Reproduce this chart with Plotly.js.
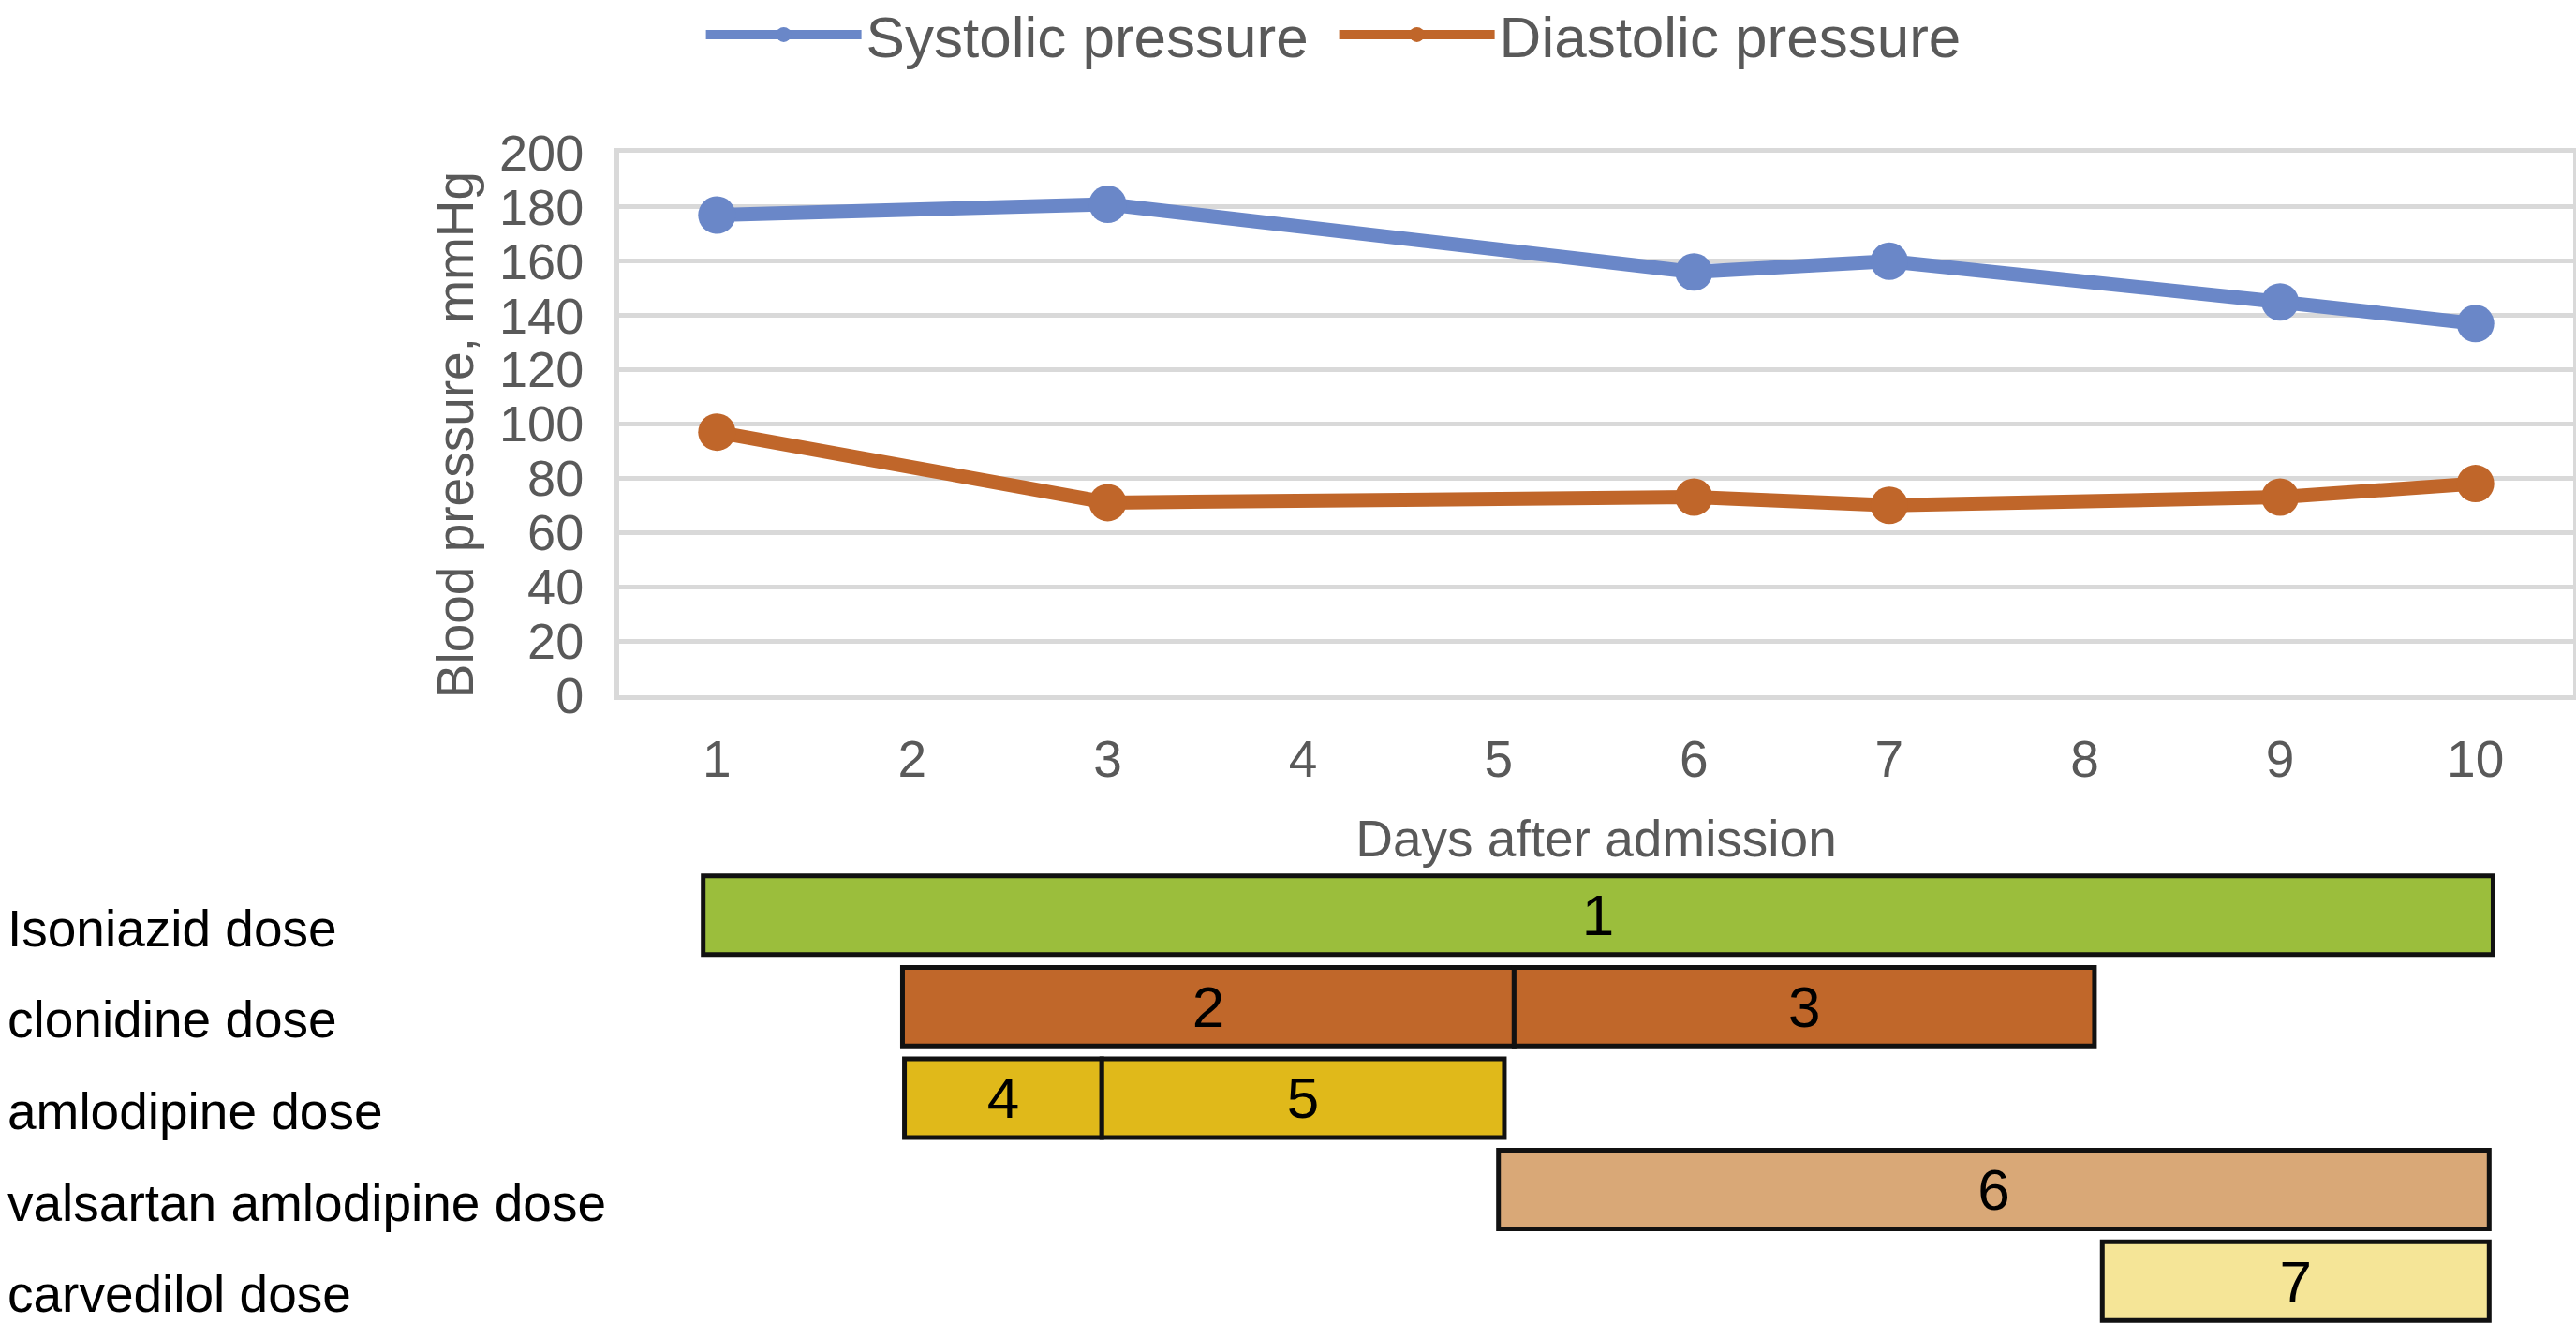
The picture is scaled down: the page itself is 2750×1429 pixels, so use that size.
<!DOCTYPE html>
<html>
<head>
<meta charset="utf-8">
<script src="https://cdn.plot.ly/plotly-3.0.1.min.js"></script>
<style>
  html, body { margin: 0; padding: 0; background: #fff; }
  #chart { width: 2750px; height: 1429px; }
</style>
</head>
<body>
<div id="chart"></div>
<script>
// blood pressure readings, days after admission
var days = [1, 3, 6, 7, 9, 10];
var systolic = [177, 181, 156, 160, 145, 137];
var diastolic = [97, 71, 73, 70, 73, 78];
var dayTicks = [1, 2, 3, 4, 5, 6, 7, 8, 9, 10];

// drug rows and dose periods (start / end in days)
var drugs = ['Isoniazid dose', 'clonidine dose', 'amlodipine dose', 'valsartan amlodipine dose', 'carvedilol dose'];
var doseRow = ['Isoniazid dose', 'clonidine dose', 'clonidine dose', 'amlodipine dose', 'amlodipine dose', 'valsartan amlodipine dose', 'carvedilol dose'];
var doseStart = [0.93, 1.95, 5.08, 1.96, 2.97, 5.0, 8.09];
var doseEnd = [10.09, 5.08, 8.05, 2.97, 5.03, 10.07, 10.07];
var doseLabels = ['1', '2', '3', '4', '5', '6', '7'];

var doseColors = ['#9bbe3c', '#c0672a', '#c0672a', '#e0b91a', '#e0b91a', '#d9a877', '#f5e597'];
var grey = '#595959';
var gridGrey = '#d9d9d9';
var fontName = 'Liberation Sans, Arial, sans-serif';

var doseLen = [];
for (var i = 0; i < doseStart.length; i++) {
  doseLen.push(doseEnd[i] - doseStart[i]);
}

var sysTrace = {
  x: days, y: systolic, name: 'Systolic pressure',
  type: 'scatter', mode: 'lines+markers',
  line: {color: '#6a87c8', width: 15},
  marker: {color: '#6a87c8', size: 40},
  xaxis: 'x', yaxis: 'y'
};

var diaTrace = {
  x: days, y: diastolic, name: 'Diastolic pressure',
  type: 'scatter', mode: 'lines+markers',
  line: {color: '#c0662a', width: 15},
  marker: {color: '#c0662a', size: 40},
  xaxis: 'x', yaxis: 'y'
};

var doseTrace = {
  type: 'bar', orientation: 'h',
  y: doseRow, base: doseStart, x: doseLen,
  text: doseLabels, textposition: 'inside', insidetextanchor: 'middle',
  textangle: 0, constraintext: 'none',
  textfont: {size: 62, color: '#000', family: fontName},
  marker: {color: doseColors, line: {color: '#111', width: 5}},
  width: 0.86, showlegend: false, hoverinfo: 'skip',
  xaxis: 'x', yaxis: 'y2'
};

var annos = [];
for (var j = 0; j < drugs.length; j++) {
  annos.push({
    text: drugs[j], xref: 'paper', yref: 'y2',
    x: -0.314, y: drugs[j], xanchor: 'left', yanchor: 'middle',
    yshift: -14, showarrow: false,
    font: {size: 55, color: '#000', family: fontName}
  });
}
// y axis title, sits a little below the middle of the plot
annos.push({
  text: 'Blood pressure, mmHg', xref: 'paper', yref: 'y domain',
  x: -0.0835, y: 0.5, xanchor: 'center', yanchor: 'middle',
  yshift: -12, textangle: -90, showarrow: false,
  font: {size: 55, color: grey, family: fontName}
});

var layout = {
  width: 2750, height: 1429,
  margin: {l: 661, r: 3, t: 163, b: 13, autoexpand: false},
  paper_bgcolor: '#fff', plot_bgcolor: '#fff',
  font: {family: fontName, color: grey},
  showlegend: true,
  legend: {
    orientation: 'h', x: 0.042, xanchor: 'left', y: 1.138, yanchor: 'top',
    font: {size: 62, color: grey}, itemsizing: 'trace', itemwidth: 166,
    entrywidth: 495, entrywidthmode: 'pixels',
    bgcolor: 'rgba(0,0,0,0)'
  },
  xaxis: {
    range: [0.5, 10.5], tickvals: dayTicks, ticktext: dayTicks.map(String),
    showgrid: false, zeroline: false,
    showline: true, linecolor: gridGrey, linewidth: 5, mirror: true,
    ticks: '', ticklabelstandoff: 16,
    tickfont: {size: 55, color: grey},
    anchor: 'y',
    title: {text: 'Days after admission', font: {size: 55, color: grey}, standoff: 37},
    automargin: false
  },
  yaxis: {
    domain: [0.538, 1], range: [0, 200], dtick: 20,
    showgrid: true, gridcolor: gridGrey, gridwidth: 5,
    zeroline: false,
    showline: true, linecolor: gridGrey, linewidth: 5, mirror: true,
    ticks: '', ticklabelstandoff: 22,
    tickfont: {size: 54, color: grey},
    automargin: false
  },
  yaxis2: {
    domain: [0, 0.3895], type: 'category', categoryarray: drugs,
    autorange: 'reversed', showticklabels: false, showgrid: false,
    zeroline: false, showline: false, ticks: '', anchor: 'x'
  },
  annotations: annos
};

Plotly.newPlot('chart', [sysTrace, diaTrace, doseTrace], layout, {displayModeBar: false, staticPlot: true});
</script>
</body>
</html>
